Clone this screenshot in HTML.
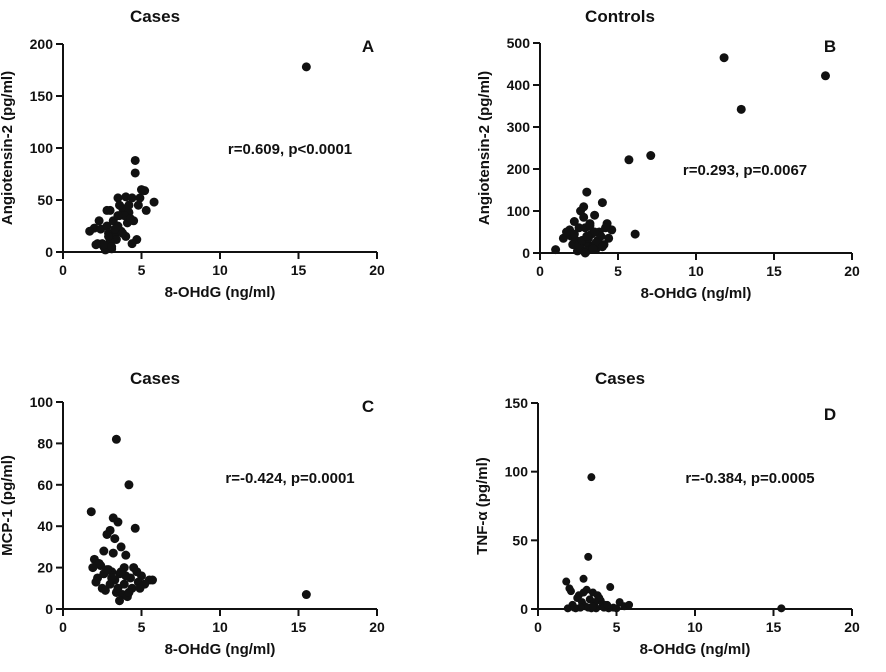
<!DOCTYPE html>
<html><head><meta charset="utf-8"><style>
body{margin:0;background:#fff;}
svg text{font-family:"Liberation Sans",sans-serif;font-weight:bold;fill:#111;}
</style></head><body>
<svg id="fig" width="886" height="667"></svg>
<script>
const aX=[15.5,4.6,4.6,5.2,5.8,4.9,3.0,3.5,4.0,4.4,4.8,3.8,4.2,3.6,4.5,5.3,2.0,2.4,1.7,2.2,2.6,3.1,3.3,3.7,4.1,2.8,3.2,3.9,4.3,2.9,3.4,2.5,2.7,3.0,3.5,4.0,2.3,2.8,3.6,4.7,3.3,2.9,3.8,4.4,2.6,3.1,3.5,4.2,5.0,2.1];
const aY=[178,88,76,59,48,52,40,52,53,52,45,42,38,35,30,40,23,22,20,8,5,3,15,20,28,25,30,35,32,18,12,8,2,10,25,15,30,40,45,12,22,15,18,8,7,5,35,45,60,7];
const bX=[11.8,12.9,18.3,5.7,7.1,6.1,1.0,1.5,3.0,4.0,2.6,2.8,3.5,2.2,1.9,2.5,3.2,3.8,4.3,4.6,2.0,2.3,2.7,3.1,3.4,3.6,4.1,4.4,2.4,2.9,3.3,3.7,2.1,2.6,3.0,3.9,4.2,2.8,3.2,3.5,2.5,2.7,3.1,3.6,4.0,2.2,3.4,1.7,2.9,3.0];
const bY=[465,342,422,222,232,45,8,35,145,120,100,110,90,75,55,60,70,50,70,55,40,30,25,20,15,10,20,35,5,60,45,30,20,10,5,40,60,85,65,50,20,30,35,25,15,45,10,50,0,40];
const cX=[15.5,3.4,4.2,1.8,3.2,3.5,4.6,3.0,2.8,3.3,2.0,2.4,2.6,3.7,4.0,4.5,5.0,5.5,2.2,2.9,3.1,3.6,3.9,4.3,4.8,5.2,2.5,2.7,3.4,3.8,4.1,4.4,2.3,3.0,3.5,4.7,5.7,1.9,3.2,3.6,2.6,4.0,4.9,3.3,2.8,3.9,4.2,3.1,2.1,3.7];
const cY=[7,82,60,47,44,42,39,38,36,34,24,21,28,30,26,20,16,14,15,19,18,17,20,15,13,12,10,9,8,7,6,10,22,12,10,18,14,20,27,4,17,16,10,14,19,12,8,15,13,18];
const dX=[15.5,3.4,3.2,1.8,2.9,2.0,2.6,3.5,4.6,5.2,2.2,2.5,2.8,3.0,3.3,3.6,3.8,4.0,4.3,4.8,5.5,5.8,2.4,2.7,3.1,3.7,4.1,4.5,1.9,3.9,2.3,3.4,3.6,4.2,5.0,2.9,3.2,4.4,2.1,3.5];
const dY=[0.5,96,38,20,22,15,10,12,16,5,3,8,5,2,7,4,10,6,3,1,2,3,0.5,1,14,0.5,2,0.5,0.5,8,1,0.5,5,1,0.5,12,1,3,13,2];
const xTicks=[0,5,10,15,20];
const aTicks=[0,50,100,150,200], bTicks=[0,100,200,300,400,500], cTicks=[0,20,40,60,80,100], dTicks=[0,50,100,150];

const svg=document.getElementById('fig');
const NS='http://www.w3.org/2000/svg';
function mk(t,a,p){const e=document.createElementNS(NS,t);for(const k in a)e.setAttribute(k,a[k]);(p||svg).appendChild(e);return e;}
function txt(s,x,y,size,anchor,p,rot){const e=mk('text',{x:x,y:y,'font-size':size,'text-anchor':anchor||'middle'},p);if(rot)e.setAttribute('transform','rotate(-90 '+x+' '+y+')');e.textContent=s;return e;}

const panels=[
 {id:'a',x0:63,x1:377,y0:252,y1:44,ymax:200,yt:aTicks,xs:aX,ys:aY,title:'Cases',tx:155,ty:22,letter:'A',lx:368,ly:52,ann:'r=0.609, p<0.0001',ax:290,ay:154,yl:'Angiotensin-2 (pg/ml)',r:4.5},
 {id:'b',x0:540,x1:852,y0:253,y1:43,ymax:500,yt:bTicks,xs:bX,ys:bY,title:'Controls',tx:620,ty:22,letter:'B',lx:830,ly:52,ann:'r=0.293, p=0.0067',ax:745,ay:175,yl:'Angiotensin-2 (pg/ml)',r:4.5},
 {id:'c',x0:63,x1:377,y0:609,y1:402,ymax:100,yt:cTicks,xs:cX,ys:cY,title:'Cases',tx:155,ty:384,letter:'C',lx:368,ly:412,ann:'r=-0.424, p=0.0001',ax:290,ay:483,yl:'MCP-1 (pg/ml)',r:4.5},
 {id:'d',x0:538,x1:852,y0:609,y1:403,ymax:150,yt:dTicks,xs:dX,ys:dY,title:'Cases',tx:620,ty:384,letter:'D',lx:830,ly:420,ann:'r=-0.384, p=0.0005',ax:750,ay:483,yl:'TNF-α (pg/ml)',r:4}
];
panels.forEach(P=>{
 const g=mk('g',{});
 
 
 const sx=v=>P.x0+(v/20)*(P.x1-P.x0);
 const sy=v=>P.y0-(v/P.ymax)*(P.y0-P.y1);
 const t=txt(P.title,P.tx,P.ty,17,'middle',g);
 
 
 const l=txt(P.letter,P.lx,P.ly,17,'middle',g);
 
 
 const ax=mk('path',{d:'M'+P.x0+' '+P.y1+' V'+P.y0+' H'+P.x1,stroke:'#111','stroke-width':2,fill:'none'},g);
 
 
 xTicks.forEach(v=>{mk('line',{x1:sx(v),x2:sx(v),y1:P.y0,y2:P.y0+7,stroke:'#111','stroke-width':2},g);
  const e=txt(String(v),sx(v),P.y0+23,14,'middle',g);
  
  });
 P.yt.forEach(v=>{mk('line',{x1:P.x0-7,x2:P.x0,y1:sy(v),y2:sy(v),stroke:'#111','stroke-width':2},g);
  const e=txt(String(v),P.x0-10,sy(v)+5,14,'end',g);
  
  });
 const xt=txt('8-OHdG (ng/ml)',(P.x0+P.x1)/2,P.y0+45,15,'middle',g);
 
 
 const yt=txt(P.yl,P.x0-51,(P.y0+P.y1)/2,15,'middle',g,true);
 
 
 const an=txt(P.ann,P.ax,P.ay,15,'middle',g);
 
 
 P.xs.forEach((v,i)=>{const c=mk('circle',{cx:sx(v),cy:sy(P.ys[i]),r:P.r,fill:'#111'},g);
  
  });
});
</script>
</body></html>
